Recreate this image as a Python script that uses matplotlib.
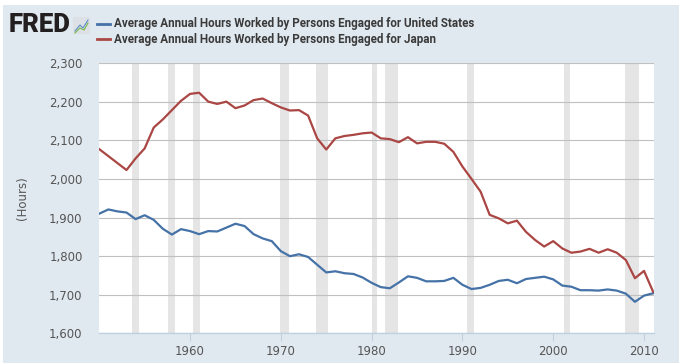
import matplotlib
matplotlib.use("Agg")
import matplotlib.pyplot as plt
from matplotlib.patches import Rectangle
from matplotlib.ticker import FuncFormatter

# annual data, 1950-2011
years = list(range(1950, 2012))
us_hours = [1910, 1921, 1916, 1913, 1896, 1906, 1894, 1871, 1856, 1870,
            1865, 1857, 1865, 1864, 1874, 1884, 1878, 1857, 1846, 1839,
            1813, 1800, 1805, 1798, 1778, 1758, 1761, 1756, 1754, 1745,
            1731, 1720, 1717, 1732, 1748, 1744, 1735, 1735, 1736, 1744,
            1726, 1715, 1718, 1726, 1736, 1739, 1730, 1741, 1744, 1747,
            1740, 1724, 1721, 1712, 1712, 1711, 1714, 1711, 1703, 1682,
            1698, 1704]
japan_hours = [2077, 2059, 2041, 2023, 2053, 2079, 2133, 2154, 2178, 2202,
               2220, 2223, 2200, 2194, 2200, 2183, 2190, 2204, 2208, 2196,
               2185, 2177, 2178, 2164, 2105, 2076, 2105, 2111, 2114, 2118,
               2120, 2105, 2103, 2095, 2108, 2092, 2096, 2096, 2091, 2070,
               2032, 2000, 1967, 1907, 1898, 1885, 1892, 1863, 1842, 1825,
               1839, 1820, 1809, 1812, 1819, 1809, 1818, 1809, 1790, 1743,
               1762, 1708]

# NBER recessions (start, end) in decimal years
recessions = [(1953.55, 1954.38), (1957.62, 1958.3), (1960.3, 1961.12),
              (1969.92, 1970.9), (1973.88, 1975.2), (1980.0, 1980.55),
              (1981.5, 1982.9), (1990.55, 1991.22), (2001.2, 2001.9),
              (2007.92, 2009.5)]

us_label = "Average Annual Hours Worked by Persons Engaged for United States"
jp_label = "Average Annual Hours Worked by Persons Engaged for Japan"
xticks = [1960, 1970, 1980, 1990, 2000, 2010]
yticks = [1600, 1700, 1800, 1900, 2000, 2100, 2200, 2300]

bg = "#e1e9f0"
us_color = "#4572a7"
jp_color = "#aa4643"

fig = plt.figure(figsize=(6.79, 3.63), dpi=100)
fig.patch.set_facecolor("white")
fig.patches.append(Rectangle((3 / 679, 0), 1, 1 - 5 / 363, transform=fig.transFigure,
                             facecolor=bg, edgecolor="none", zorder=-10))

ax = fig.add_axes([0.1462, 0.0813, 0.8170, 0.7452])
ax.set_facecolor("white")

for start, end in recessions:
    ax.axvspan(start, end, color="#e5e5e5", lw=0, zorder=0)

ax.plot(years, us_hours, color=us_color, lw=1.6, zorder=3)
ax.plot(years, japan_hours, color=jp_color, lw=1.6, zorder=3)

ax.set_xlim(1950, 2011.1)
ax.set_ylim(1600, 2300)
ax.set_xticks(xticks)
ax.set_yticks(yticks)
ax.yaxis.set_major_formatter(FuncFormatter(lambda v, p: f"{int(v):,}"))
ax.grid(axis="y", color="#c0c0c0", lw=0.8, zorder=1)
ax.set_axisbelow(True)

for side in ["top", "right", "left"]:
    ax.spines[side].set_visible(False)
ax.spines["bottom"].set_color("#c0d0e0")
ax.spines["bottom"].set_linewidth(1)

ax.tick_params(axis="y", length=0, pad=12, labelsize=8.5, labelcolor="#555555")
ax.tick_params(axis="x", length=6, width=0.8, color="#c0d0e0", pad=2,
               labelsize=8.5, labelcolor="#555555")
for lab in ax.get_yticklabels() + ax.get_xticklabels():
    lab.set_family("DejaVu Sans")

fig.text(22 / 679, 1 - 198 / 363, "(Hours)", rotation=90, ha="center", va="center",
         fontsize=8.5, color="#555555")

# header: logo and legend
fig.text(9 / 679, 1 - 25 / 363, "FRED", fontsize=18.5, fontweight="black",
         family=["Roboto", "DejaVu Sans"], color="#231f20", ha="left", va="center")
fig.patches.append(Rectangle((73 / 679, 1 - 34 / 363), 17 / 679, 17 / 363,
                             transform=fig.transFigure, facecolor="#dde1e5",
                             edgecolor="none"))
fig.lines.append(plt.Line2D([75 / 679, 80 / 679, 83 / 679, 88 / 679],
                            [1 - 31 / 363, 1 - 25 / 363, 1 - 28 / 363, 1 - 20 / 363],
                            transform=fig.transFigure, color="#5b8fc7", lw=0.8))
fig.lines.append(plt.Line2D([75 / 679, 80 / 679, 84 / 679, 88 / 679],
                            [1 - 33 / 363, 1 - 28 / 363, 1 - 30 / 363, 1 - 23 / 363],
                            transform=fig.transFigure, color="#7ab648", lw=0.8))

legend_font = ["Roboto", "DejaVu Sans"]
for i, (lab, col) in enumerate([(us_label, us_color), (jp_label, jp_color)]):
    y = 1 - (24 + 15 * i) / 363
    fig.lines.append(plt.Line2D([97 / 679, 110 / 679], [y, y], transform=fig.transFigure,
                                color=col, lw=2))
    fig.text(114 / 679, y, lab, fontsize=8.4, fontweight="bold", family=legend_font,
             color="#3a3a3a", ha="left", va="center")

fig.savefig("out.png", dpi=100, facecolor=fig.get_facecolor())
